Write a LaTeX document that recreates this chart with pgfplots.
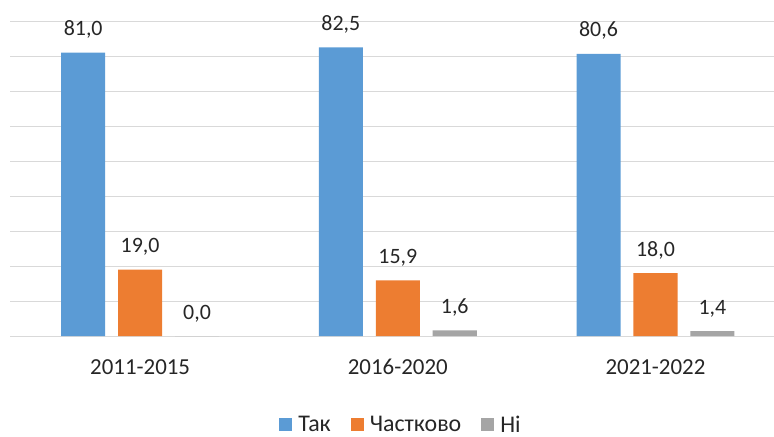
\documentclass[border=0pt]{standalone}
\usepackage{pgfplots}
\pgfplotsset{compat=1.18}
\usepackage{fontspec}
\setmainfont{Carlito}
\definecolor{cblue}{HTML}{5B9BD5}
\definecolor{corange}{HTML}{ED7D31}
\definecolor{cgray}{HTML}{A5A5A5}
\definecolor{ctext}{HTML}{262626}
\definecolor{cgrid}{HTML}{D9D9D9}
\begin{document}
\begin{tikzpicture}
\useasboundingbox (0,0) rectangle (774bp,437bp);
\begin{axis}[
  at={(10bp,101bp)}, anchor=south west,
  scale only axis, width=764bp, height=315bp,
  xmin=-0.505, xmax=2.46, ymin=0, ymax=90,
  ytick={0,10,...,90}, yticklabels={},
  ymajorgrids, grid style={color=cgrid, line width=1bp},
  axis line style={draw=none},
  major tick length=0pt,
  xtick={0,1,2}, xticklabels={2011-2015,2016-2020,2021-2022},
  xticklabel style={anchor=base, yshift=-38bp, font=\fontsize{23}{27}\selectfont, text=ctext},
  /pgf/number format/assume math mode=true,
  ybar, bar width=0.171,
  nodes near coords={\pgfmathprintnumber[fixed,fixed zerofill,precision=1,use comma]{\pgfplotspointmeta}},
  nodes near coords style={anchor=base, yshift=17bp, font=\fontsize{22}{26}\selectfont, text=ctext},
  legend columns=-1,
  legend style={at={(0.5105,-0.2825)}, anchor=center, draw=none, fill=none,
    font=\fontsize{24}{28}\selectfont, text=ctext,
    nodes={inner xsep=0pt, inner ysep=1bp},
    /tikz/every odd column/.append style={column sep=6bp},
    /tikz/every even column/.append style={column sep=20bp}},
  legend image code/.code={\fill[#1] (0bp,-6.5bp) rectangle (13bp,6.5bp);},
  clip=false,
]
\addplot[draw=none, fill=cblue, bar shift=-0.221] coordinates {(0,81.0) (1,82.5) (2,80.6)};
\addplot[draw=none, fill=corange, bar shift=0] coordinates {(0,19.0) (1,15.9) (2,18.0)};
\addplot[draw=none, fill=cgray, bar shift=0.221] coordinates {(0,0.0) (1,1.6) (2,1.4)};
\legend{Так, Частково, Ні}
\end{axis}
\end{tikzpicture}
\end{document}
